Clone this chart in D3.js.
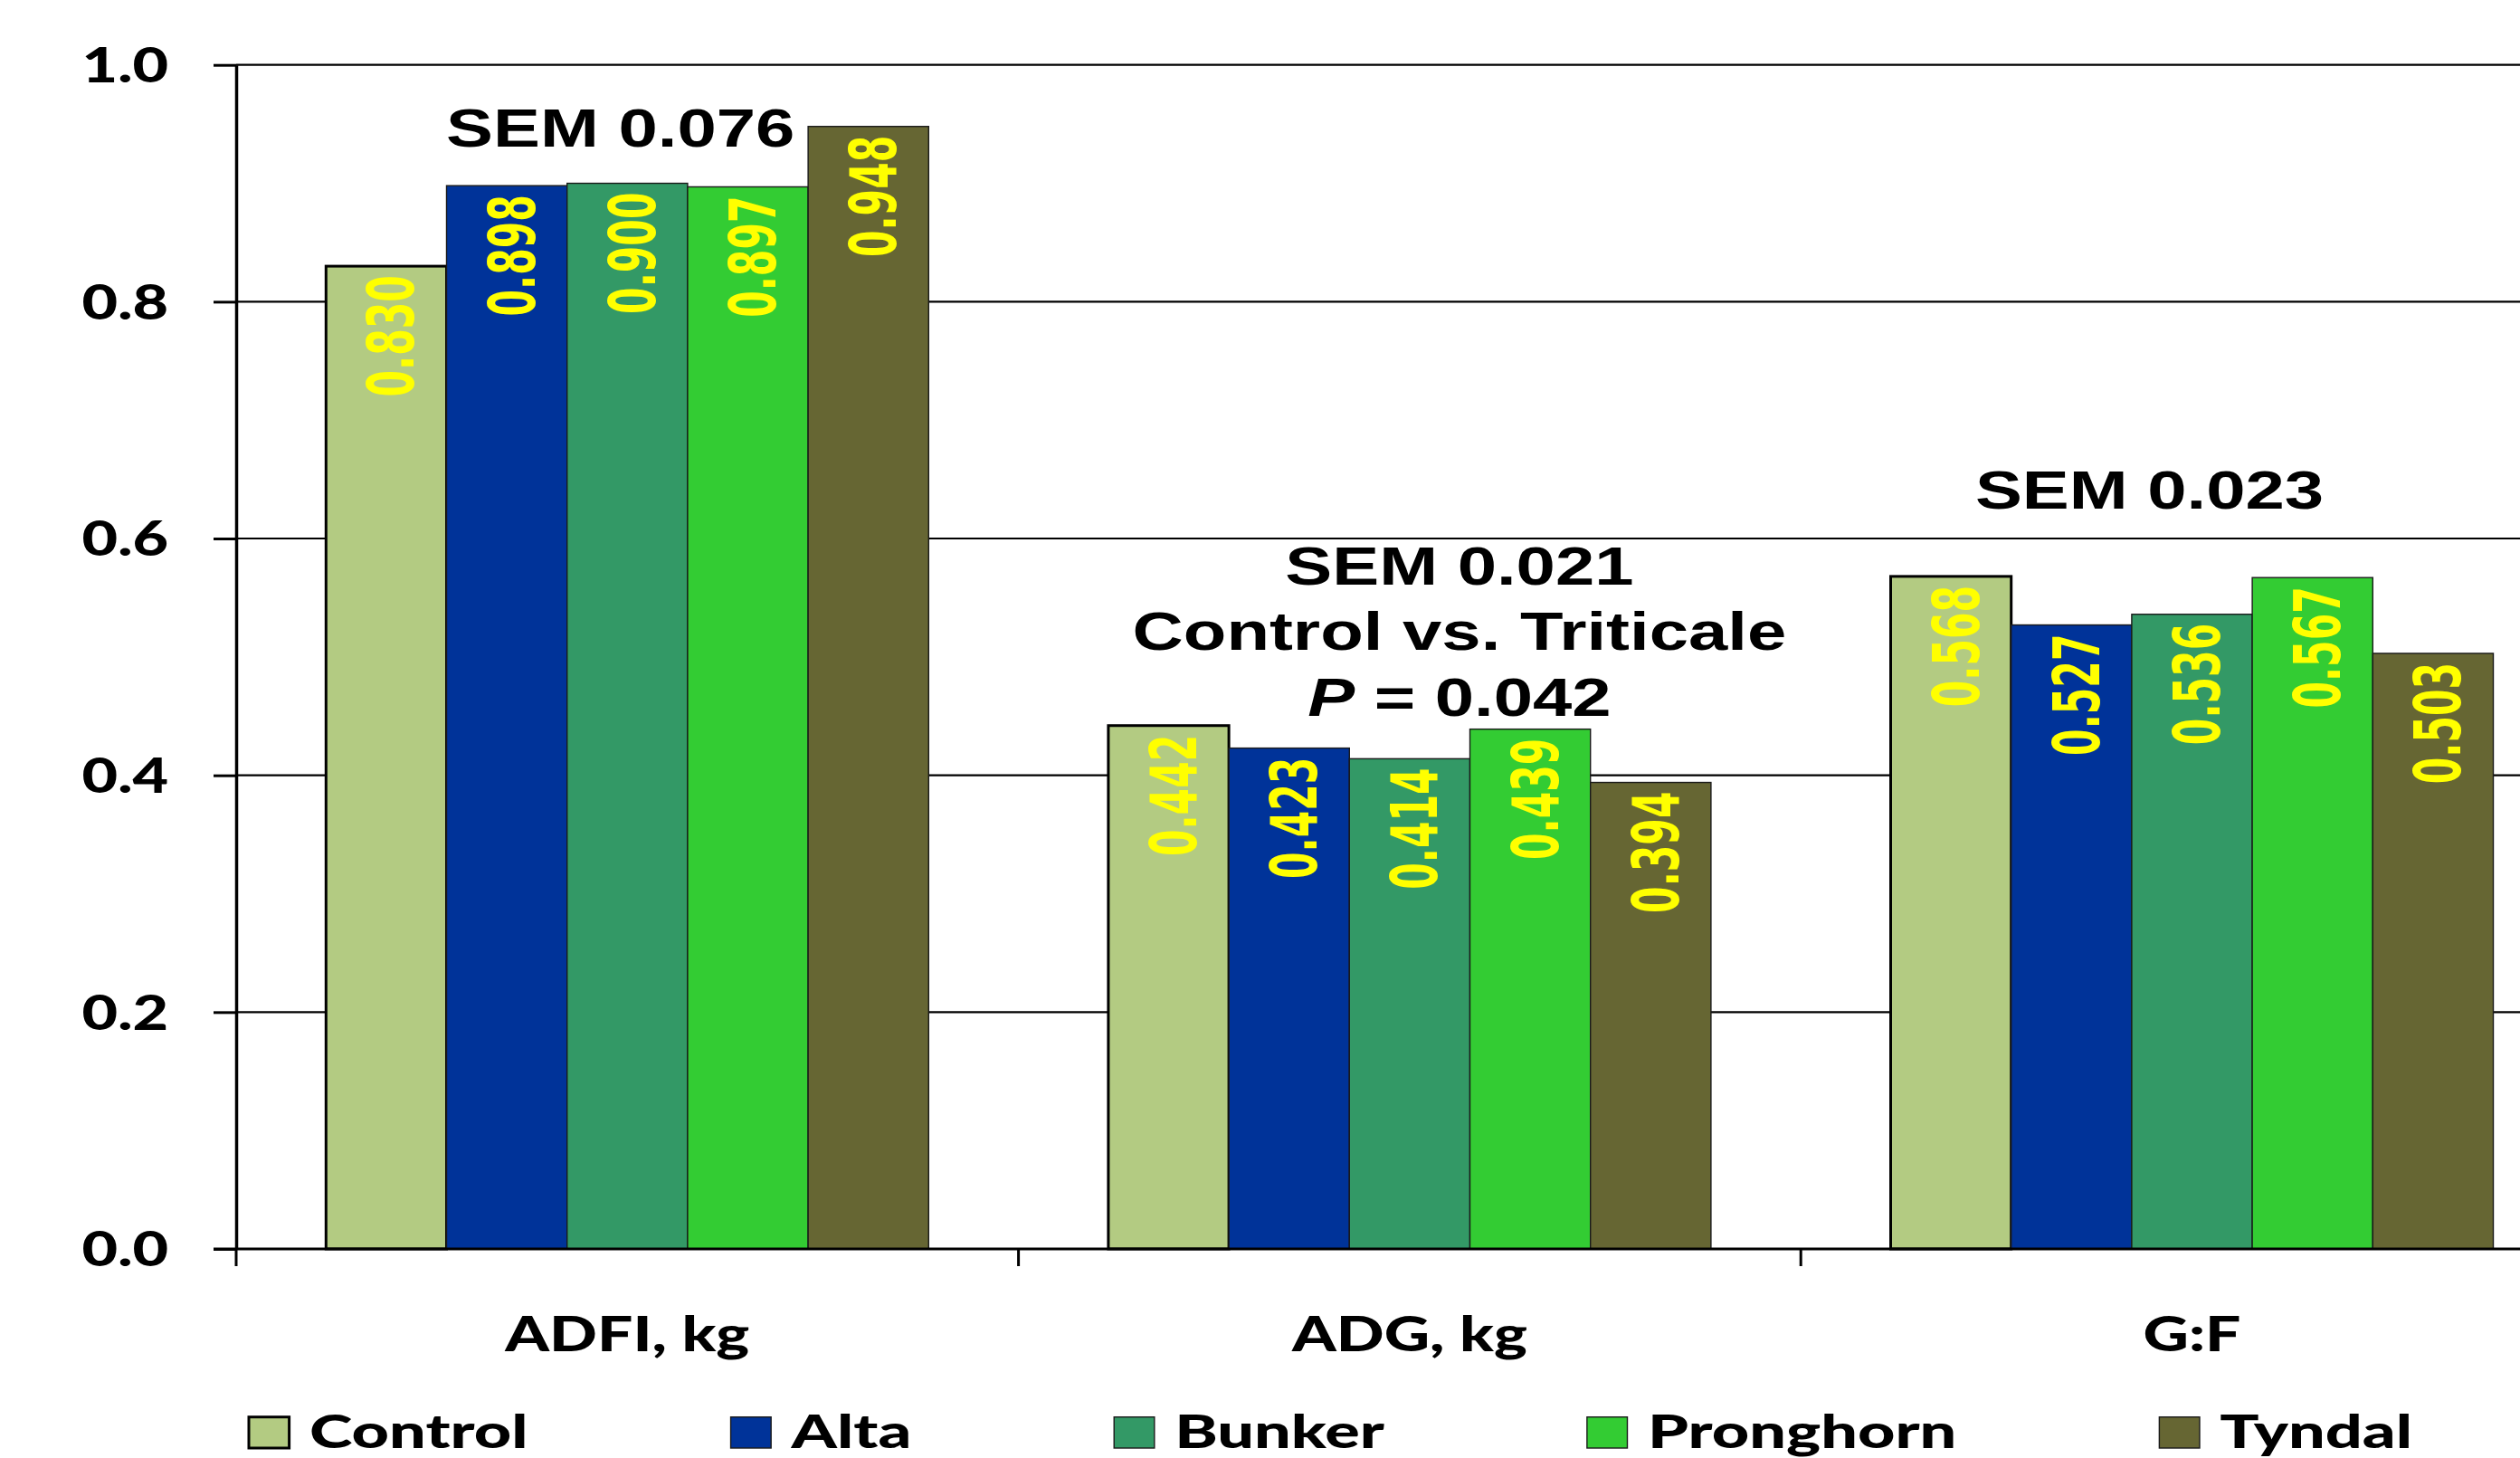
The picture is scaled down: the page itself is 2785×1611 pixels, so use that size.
<!DOCTYPE html>
<html><head><meta charset="utf-8">
<script src="https://cdn.jsdelivr.net/npm/d3@7"></script>
<style>body{margin:0;background:#fff;overflow:hidden} svg{display:block}</style>
</head><body><svg id="chart" width="2785" height="1611"></svg>
<script>
// ---------- data ----------
const categories = ["ADFI, kg", "ADG, kg", "G:F"];
const seriesNames = ["Control", "Alta", "Bunker", "Pronghorn", "Tyndal"];
const seriesColors = ["#B3CB82", "#003399", "#339966", "#33CC33", "#666633"];
const controlValues   = [0.830, 0.442, 0.568];
const altaValues      = [0.898, 0.423, 0.527];
const bunkerValues    = [0.900, 0.414, 0.536];
const pronghornValues = [0.897, 0.439, 0.567];
const tyndalValues    = [0.948, 0.394, 0.503];
const yTickValues = [0.0, 0.2, 0.4, 0.6, 0.8, 1.0];
const semLabels = [
  ["SEM 0.076"],
  ["SEM 0.021", "Control vs. Triticale", "P = 0.042"],
  ["SEM 0.023"]
];

const seriesValues = [controlValues, altaValues, bunkerValues, pronghornValues, tyndalValues];

// ---------- layout ----------
const W = 2785, H = 1611;
const ARIAL = "'Liberation Sans', Arial, sans-serif";
const CALIBRI = "Lato, 'Open Sans', sans-serif";
const VERDANA = "'DejaVu Sans', Verdana, sans-serif";

const svg = d3.select("#chart");
svg.append("rect").attr("width", W).attr("height", H).attr("fill", "#fff");

const axisX = 261;
const catWidth = 864.6;
const x0 = d3.scaleBand().domain(categories).range([axisX, axisX + catWidth * categories.length]).padding(0);
const x1 = d3.scaleBand().domain(seriesNames).range([0, x0.bandwidth()]).paddingInner(0).paddingOuter(0.7455);
const y = d3.scaleLinear().domain([0, 1]).range([1380, 71.7]);
const color = d3.scaleOrdinal().domain(seriesNames).range(seriesColors);

// gridlines
svg.append("g").selectAll("line").data(yTickValues.filter(d => d > 0)).join("line")
  .attr("x1", axisX).attr("x2", W)
  .attr("y1", d => y(d)).attr("y2", d => y(d))
  .attr("stroke", "#000").attr("stroke-width", 2.2);

// bars
const groups = svg.append("g").selectAll("g").data(categories).join("g")
  .attr("transform", c => `translate(${x0(c)},0)`);

groups.each(function(c, ci) {
  const g = d3.select(this);
  const rows = seriesNames.map((s, si) => ({ s, v: seriesValues[si][ci] }));
  g.selectAll("rect").data(rows).join("rect")
    .attr("x", d => x1(d.s))
    .attr("y", d => y(d.v))
    .attr("width", x1.bandwidth())
    .attr("height", d => y(0) - y(d.v))
    .attr("fill", d => color(d.s))
    .attr("stroke", d => d.s === "Control" ? "#000" : "#1a1a1a")
    .attr("stroke-width", d => d.s === "Control" ? 3 : 1.4);
  g.selectAll("text.val").data(rows).join("text")
    .attr("class", "val")
    .attr("transform", d => `translate(${x1(d.s) + x1.bandwidth() / 2 + 5},${y(d.v) + 10}) scale(1.66,1) rotate(-90)`)
    .attr("text-anchor", "end")
    .attr("dy", "0.36em")
    .attr("font-family", VERDANA).attr("font-weight", "bold").attr("font-size", 42.5)
    .attr("fill", "#FFFF00")
    .text(d => d.v.toFixed(3));
});

// y axis
const yAxis = svg.append("g").attr("transform", `translate(${axisX},0)`)
  .call(d3.axisLeft(y).tickValues(yTickValues).tickFormat(d3.format(".1f")).tickSize(25).tickSizeOuter(0));
yAxis.select(".domain").attr("stroke", "#000").attr("stroke-width", 3.5);
yAxis.selectAll(".tick line").attr("stroke", "#000").attr("stroke-width", 3);
yAxis.selectAll(".tick text")
  .attr("x", 0).attr("dy", "0.36em")
  .attr("transform", "translate(-75,0) scale(1.3,1)")
  .attr("text-anchor", "end")
  .attr("font-family", CALIBRI).attr("font-weight", "900").attr("font-size", 52.5)
  .attr("fill", "#000");

// x axis line and ticks
svg.append("line").attr("x1", axisX - 25).attr("x2", W).attr("y1", y(0)).attr("y2", y(0))
  .attr("stroke", "#000").attr("stroke-width", 3);
const boundaries = categories.map(c => x0(c)).concat([x0.range()[1]]);
svg.append("g").selectAll("line").data(boundaries).join("line")
  .attr("x1", d => d).attr("x2", d => d).attr("y1", y(0)).attr("y2", y(0) + 19)
  .attr("stroke", "#000").attr("stroke-width", 3);

// category labels
svg.append("g").selectAll("text").data(categories).join("text")
  .attr("transform", c => `translate(${x0(c) + x0.bandwidth() / 2},1493) scale(1.3,1)`)
  .attr("text-anchor", "middle")
  .attr("font-family", CALIBRI).attr("font-weight", "900").attr("font-size", 53.5)
  .attr("fill", "#000")
  .text(c => c);

// SEM annotations
const annOffsets = [{ dx: -7.6, v: 0.931 }, { dx: 55, v: 0.561 }, { dx: -47, v: 0.625 }];
const lineStep = 72.3;
semLabels.forEach((lines, ci) => {
  const cx = x0(categories[ci]) + x0.bandwidth() / 2 + annOffsets[ci].dx;
  lines.forEach((ln, li) => {
    const t = svg.append("text")
      .attr("transform", `translate(${cx},${y(annOffsets[ci].v) + li * lineStep}) scale(1.32,1)`)
      .attr("text-anchor", "middle")
      .attr("font-family", ARIAL).attr("font-weight", "bold").attr("font-size", 59)
      .attr("fill", "#000");
    if (ln.startsWith("P ")) {
      t.append("tspan").attr("font-style", "italic").text("P");
      t.append("tspan").text(ln.slice(1));
    } else {
      t.text(ln);
    }
  });
});

// legend
const legend = svg.append("g");
let lx = 275;
const legendBase = 1600;
const legendSX = 1.41;
seriesNames.forEach((s, i) => {
  legend.append("rect")
    .attr("x", lx).attr("y", legendBase - 34.3).attr("width", 44.6).attr("height", 34.3)
    .attr("fill", color(s))
    .attr("stroke", s === "Control" ? "#000" : "#1a1a1a")
    .attr("stroke-width", s === "Control" ? 3 : 1.4);
  const tx = lx + 44.6 + 22.4;
  const t = legend.append("text")
    .attr("transform", `translate(${tx},${legendBase}) scale(${legendSX},1)`)
    .attr("font-family", CALIBRI).attr("font-weight", "900").attr("font-size", 51)
    .attr("fill", "#000")
    .text(s);
  const w = t.node().getComputedTextLength() * legendSX;
  lx = tx + w + 224;
});
</script>
</body></html>
